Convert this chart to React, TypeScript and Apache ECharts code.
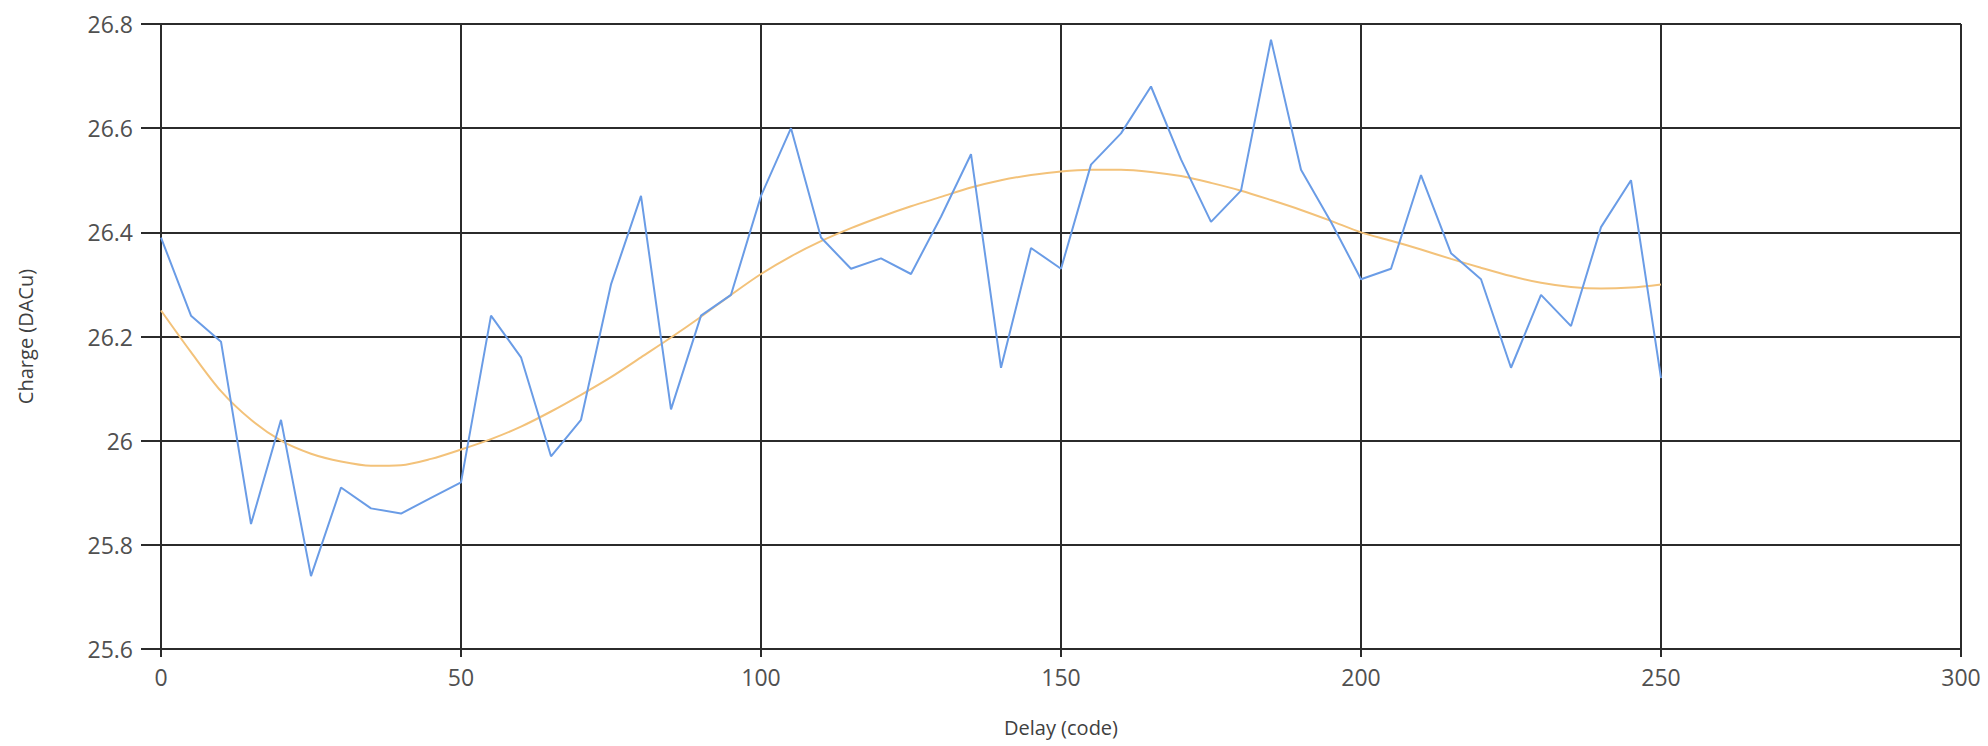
import React, { useEffect, useRef } from "react";
import * as echarts from "echarts";

const delayCodes = [
  0, 5, 10, 15, 20, 25, 30, 35, 40, 45, 50, 55, 60, 65, 70, 75, 80, 85, 90, 95,
  100, 105, 110, 115, 120, 125, 130, 135, 140, 145, 150, 155, 160, 165, 170, 175,
  180, 185, 190, 195, 200, 205, 210, 215, 220, 225, 230, 235, 240, 245, 250,
];
const chargeValues = [
  26.39, 26.24, 26.19, 25.84, 26.04, 25.74, 25.91, 25.87, 25.86, 25.89, 25.92,
  26.24, 26.16, 25.97, 26.04, 26.3, 26.47, 26.06, 26.24, 26.28, 26.47, 26.6,
  26.39, 26.33, 26.35, 26.32, 26.43, 26.55, 26.14, 26.37, 26.33, 26.53, 26.59,
  26.68, 26.54, 26.42, 26.48, 26.77, 26.52, 26.42, 26.31, 26.33, 26.51, 26.36,
  26.31, 26.14, 26.28, 26.22, 26.41, 26.5, 26.12,
];
const fitValues = [
  26.25, 26.17, 26.095, 26.04, 26.0, 25.975, 25.96, 25.952, 25.953, 25.965,
  25.983, 26.003, 26.027, 26.056, 26.088, 26.122, 26.16, 26.198, 26.238, 26.28,
  26.32, 26.354, 26.383, 26.408, 26.43, 26.45, 26.468, 26.486, 26.5, 26.51,
  26.517, 26.52, 26.52, 26.516, 26.508, 26.495, 26.48, 26.462, 26.443, 26.422,
  26.4, 26.384, 26.367, 26.349, 26.332, 26.316, 26.303, 26.295, 26.292, 26.294,
  26.3,
];
const xTicks = { min: 0, max: 300, interval: 50 };
const yTicks = { min: 25.6, max: 26.8, interval: 0.2 };

export default function App() {
  const ref = useRef<HTMLDivElement>(null);
  useEffect(() => {
    document.body.style.margin = "0";
    if (!ref.current) return;
    const chart = echarts.init(ref.current, undefined, { renderer: "svg" });
    const gridColor = "#2b2b2b";
    const labelStyle = {
      color: "#505050",
      fontFamily: "Open Sans",
      fontSize: 23,
    };
    chart.setOption({
      animation: false,
      backgroundColor: "#ffffff",
      grid: { left: 161, right: 27, top: 24, bottom: 97, containLabel: false },
      xAxis: {
        type: "value",
        min: xTicks.min,
        max: xTicks.max,
        interval: xTicks.interval,
        name: "Delay (code)",
        nameLocation: "middle",
        nameGap: 68,
        nameTextStyle: { color: "#404040", fontFamily: "Open Sans", fontSize: 20 },
        axisLine: { show: true, lineStyle: { color: gridColor, width: 2 } },
        axisTick: { show: true, length: 8, lineStyle: { color: gridColor, width: 2 } },
        axisLabel: { ...labelStyle, margin: 16 },
        splitLine: { show: true, lineStyle: { color: gridColor, width: 2 } },
      },
      yAxis: {
        type: "value",
        min: yTicks.min,
        max: yTicks.max,
        interval: yTicks.interval,
        name: "Charge (DACu)",
        nameLocation: "middle",
        nameGap: 126,
        nameRotate: 90,
        nameTextStyle: { color: "#404040", fontFamily: "Open Sans", fontSize: 20 },
        axisLine: { show: true, lineStyle: { color: gridColor, width: 2 } },
        axisTick: { show: true, length: 20, lineStyle: { color: gridColor, width: 2 } },
        axisLabel: {
          ...labelStyle,
          margin: 28,
          formatter: (v: number) => String(Math.round(v * 10) / 10),
        },
        splitLine: { show: true, lineStyle: { color: gridColor, width: 2 } },
      },
      series: [
        {
          type: "line",
          data: delayCodes.map((d, i) => [d, chargeValues[i]]),
          showSymbol: false,
          lineStyle: { color: "#6a9ce6", width: 2 },
          itemStyle: { color: "#6a9ce6" },
          z: 3,
        },
        {
          type: "line",
          data: delayCodes.map((d, i) => [d, fitValues[i]]),
          smooth: 0.3,
          showSymbol: false,
          lineStyle: { color: "#f3c27a", width: 2 },
          itemStyle: { color: "#f3c27a" },
          z: 2,
        },
      ],
    });
    return () => chart.dispose();
  }, []);
  return <div ref={ref} style={{ width: 1988, height: 746 }} />;
}
